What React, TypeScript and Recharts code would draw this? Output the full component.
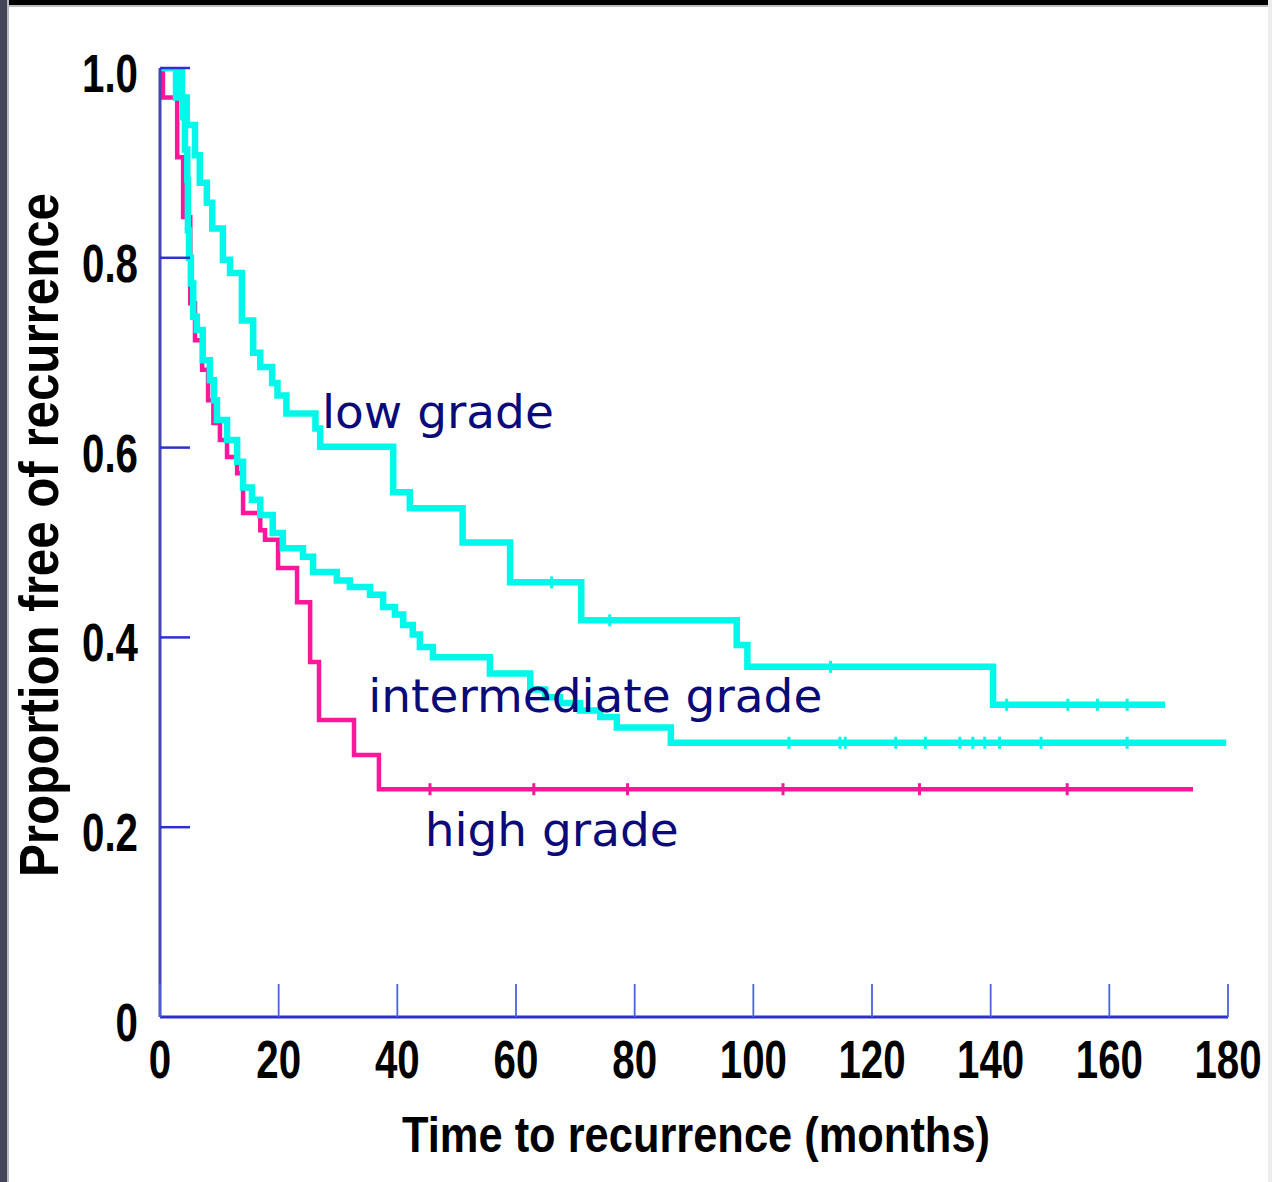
import React from 'react';
import { LineChart, Line, XAxis, YAxis, ReferenceDot } from 'recharts';

// ---------- data ----------
const X_TICKS = [0, 20, 40, 60, 80, 100, 120, 140, 160, 180];
const Y_TICKS = [0, 0.2, 0.4, 0.6, 0.8, 1.0];
const Y_TICK_LABELS = ['0', '0.2', '0.4', '0.6', '0.8', '1.0'];

// [month, proportion free of recurrence, censored(1)]
const lowGrade: [number, number, number][] = [
  [0, 1.0, 0], [3.7, 0.969, 0], [4.5, 0.94, 0], [5.9, 0.908, 0], [6.7, 0.879, 0],
  [7.9, 0.858, 0], [8.8, 0.831, 0], [10.6, 0.798, 0], [11.8, 0.784, 0], [13.8, 0.734, 0],
  [15.7, 0.7, 0], [16.9, 0.685, 0], [18.9, 0.668, 0], [19.8, 0.655, 0], [21.3, 0.636, 0],
  [26.2, 0.62, 0], [27.0, 0.601, 0], [39.3, 0.553, 0], [42.1, 0.536, 0], [51.0, 0.5, 0],
  [59.0, 0.458, 0], [66.0, 0.458, 1], [71.0, 0.418, 0], [75.8, 0.418, 1], [97.2, 0.392, 0],
  [99.0, 0.369, 0], [113.0, 0.369, 1], [140.4, 0.329, 0], [142.7, 0.329, 1], [153.0, 0.329, 1],
  [158.0, 0.329, 1], [163.0, 0.329, 1], [169.4, 0.329, 0],
];

const intermediateGrade: [number, number, number][] = [
  [0, 1.0, 0], [2.7, 0.969, 0], [3.9, 0.948, 0], [4.2, 0.914, 0], [4.6, 0.882, 0],
  [4.7, 0.829, 0], [4.9, 0.8, 0], [5.2, 0.773, 0], [5.6, 0.738, 0], [6.2, 0.724, 0],
  [7.2, 0.692, 0], [8.4, 0.671, 0], [9.1, 0.65, 0], [9.6, 0.629, 0], [11.3, 0.608, 0],
  [13.0, 0.585, 0], [14.0, 0.558, 0], [15.5, 0.545, 0], [16.9, 0.529, 0], [19.0, 0.51, 0],
  [20.7, 0.494, 0], [24.1, 0.485, 0], [25.8, 0.469, 0], [29.8, 0.46, 0], [32.0, 0.453, 0],
  [35.4, 0.445, 0], [37.6, 0.432, 0], [39.6, 0.424, 0], [41.0, 0.413, 0], [42.6, 0.403, 0],
  [43.8, 0.39, 0], [46.0, 0.379, 0], [55.6, 0.362, 0], [62.4, 0.345, 0], [64.9, 0.337, 0],
  [67.4, 0.331, 0], [70.8, 0.323, 0], [74.2, 0.316, 0], [77.0, 0.305, 0], [86.1, 0.289, 0],
  [106.0, 0.289, 1], [114.6, 0.289, 1], [115.5, 0.289, 1], [124.0, 0.289, 1], [129.0, 0.289, 1],
  [134.8, 0.289, 1], [137.0, 0.289, 1], [139.0, 0.289, 1], [141.5, 0.289, 1], [148.5, 0.289, 1],
  [163.0, 0.289, 1], [179.7, 0.289, 0],
];

const highGrade: [number, number, number][] = [
  [0, 1.0, 0], [0.5, 0.969, 0], [2.9, 0.906, 0], [3.9, 0.843, 0], [5.1, 0.752, 0],
  [5.9, 0.713, 0], [7.1, 0.682, 0], [8.1, 0.65, 0], [9.0, 0.626, 0], [10.1, 0.608, 0],
  [11.3, 0.59, 0], [13.0, 0.573, 0], [14.0, 0.531, 0], [16.9, 0.513, 0], [17.7, 0.503, 0],
  [19.9, 0.473, 0], [23.1, 0.437, 0], [25.3, 0.374, 0], [26.8, 0.313, 0], [32.7, 0.276, 0],
  [36.9, 0.24, 0], [45.5, 0.24, 1], [63.0, 0.24, 1], [78.8, 0.24, 1], [105.0, 0.24, 1],
  [128.0, 0.24, 1], [152.9, 0.24, 1], [174.1, 0.24, 0],
];

const ANNOTATIONS: { text: string; t: number; s: number }[] = [
  { text: 'low grade', t: 27.3, s: 0.621 },
  { text: 'intermediate grade', t: 35.1, s: 0.321 },
  { text: 'high grade', t: 44.6, s: 0.18 },
];

const toRows = (arr: [number, number, number][]) => arr.map(([t, s, c]) => ({ t, s, c }));

// ---------- styles ----------
const CYAN = '#00f8ea';
const MAGENTA = '#fb169a';
const AXIS = '#2f2fd0';
const TICK = '#4a62dc';
const NAVY = '#0a0a78';
const NUM_FONT = '"Liberation Sans", Arial, sans-serif';
const NOTE_FONT = '"DejaVu Sans", Verdana, sans-serif';

const censorDot = (color: string) => (props: any) => {
  const { cx, cy, payload, index } = props;
  if (!payload || !payload.c) return <g key={`n${index}`} />;
  return (
    <line key={`c${index}`} x1={cx} x2={cx} y1={cy - 6} y2={cy + 6} stroke={color} strokeWidth={3} />
  );
};

const XTick = (props: any) => {
  const { x, y, payload } = props;
  const axisY = y - 8;
  return (
    <g>
      <line x1={x} x2={x} y1={axisY} y2={axisY - 33} stroke={TICK} strokeWidth={1.8} />
      <text
        transform={`translate(${x},${axisY + 61}) scale(0.76,1)`}
        textAnchor="middle"
        fontFamily={NUM_FONT}
        fontWeight="bold"
        fontSize={53}
        fill="#000"
      >
        {String(payload.value)}
      </text>
    </g>
  );
};

const YTick = (props: any) => {
  const { x, y, payload, index } = props;
  const axisX = x + 8;
  const label = Y_TICK_LABELS[Y_TICKS.indexOf(payload.value)] ?? String(payload.value);
  return (
    <g>
      {index !== 0 && (
        <line x1={axisX} x2={axisX + 30} y1={y} y2={y} stroke={AXIS} strokeWidth={2.5} />
      )}
      <text
        transform={`translate(${axisX - 22},${y + 24}) scale(0.76,1)`}
        textAnchor="end"
        fontFamily={NUM_FONT}
        fontWeight="bold"
        fontSize={53}
        fill="#000"
      >
        {label}
      </text>
    </g>
  );
};

const noteShape = (text: string) => (p: any) => (
  <text x={p.cx} y={p.cy} fontFamily={NOTE_FONT} fontSize={47} fill={NAVY} textAnchor="start">
    {text}
  </text>
);

export default function App() {
  return (
    <div style={{ position: 'absolute', left: 0, top: 0, width: 1272, height: 1182, background: '#fff', overflow: 'hidden' }}>
      <LineChart width={1272} height={1182} margin={{ top: 68, right: 44, bottom: 65, left: 60 }}>
        <XAxis
          type="number"
          dataKey="t"
          domain={[0, 180]}
          ticks={X_TICKS}
          axisLine={{ stroke: AXIS, strokeWidth: 3 }}
          tickLine={false}
          tick={XTick}
          height={100}
          allowDataOverflow
        />
        <YAxis
          type="number"
          dataKey="s"
          domain={[0, 1]}
          ticks={Y_TICKS}
          axisLine={{ stroke: '#4646b4', strokeWidth: 3 }}
          tickLine={false}
          tick={YTick}
          width={100}
          allowDataOverflow
        />
        <Line
          data={toRows(highGrade)}
          dataKey="s"
          type="stepAfter"
          stroke={MAGENTA}
          strokeWidth={4.5}
          dot={censorDot(MAGENTA)}
          activeDot={false}
          isAnimationActive={false}
        />
        <Line
          data={toRows(intermediateGrade)}
          dataKey="s"
          type="stepAfter"
          stroke={CYAN}
          strokeWidth={6.5}
          dot={censorDot(CYAN)}
          activeDot={false}
          isAnimationActive={false}
        />
        <Line
          data={toRows(lowGrade)}
          dataKey="s"
          type="stepAfter"
          stroke={CYAN}
          strokeWidth={6.5}
          dot={censorDot(CYAN)}
          activeDot={false}
          isAnimationActive={false}
        />
        {ANNOTATIONS.map((a) => (
          <ReferenceDot key={a.text} x={a.t} y={a.s} r={0} ifOverflow="visible" shape={noteShape(a.text)} />
        ))}
      </LineChart>
      <svg width={1272} height={1182} style={{ position: 'absolute', left: 0, top: 0, pointerEvents: 'none' }}>
        <text
          transform="translate(58,535) rotate(-90)"
          textAnchor="middle"
          fontFamily={NUM_FONT}
          fontWeight="bold"
          fontSize={56}
          textLength={684}
          lengthAdjust="spacingAndGlyphs"
          fill="#000"
        >
          Proportion free of recurrence
        </text>
        <text
          x={696}
          y={1152}
          textAnchor="middle"
          fontFamily={NUM_FONT}
          fontWeight="bold"
          fontSize={50}
          textLength={588}
          lengthAdjust="spacingAndGlyphs"
          fill="#000"
        >
          Time to recurrence (months)
        </text>
        <rect x={0} y={0} width={1272} height={5} fill="#000" />
        <rect x={0} y={5} width={1272} height={2} fill="#bdbdbd" />
        <rect x={0} y={0} width={7} height={1182} fill="#45455a" />
        <rect x={7} y={0} width={2} height={1182} fill="#b8b8c4" />
        <rect x={1268} y={0} width={4} height={1182} fill="#ececec" />
      </svg>
    </div>
  );
}
